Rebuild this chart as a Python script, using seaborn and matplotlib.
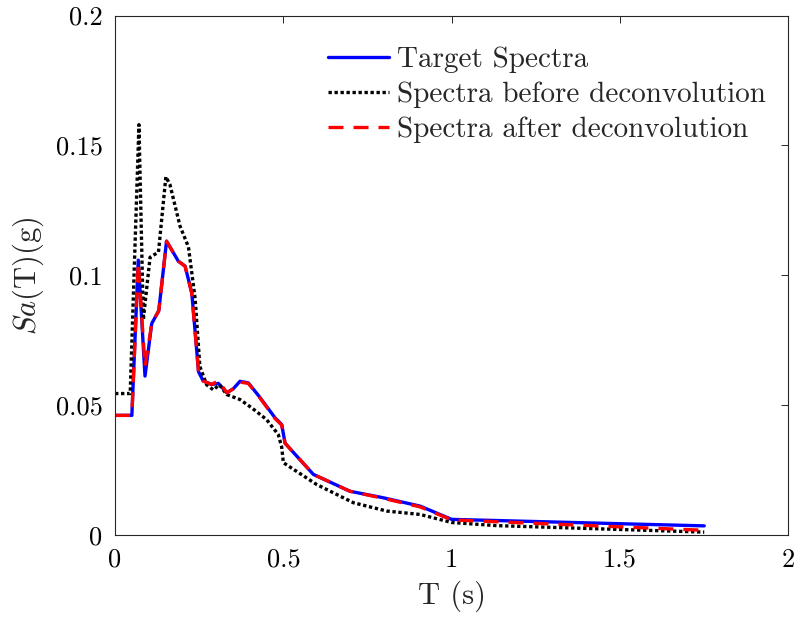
import numpy as np
import pandas as pd
import matplotlib
matplotlib.use("Agg")
import matplotlib.pyplot as plt
import seaborn as sns

# ---- data ----
T_target = [0.0, 0.05, 0.069, 0.089, 0.109, 0.130, 0.153, 0.188, 0.208, 0.228,
            0.248, 0.262, 0.287, 0.307, 0.332, 0.351, 0.371, 0.396, 0.431, 0.475,
            0.495, 0.505, 0.589, 0.698, 0.797, 0.906, 1.0, 1.75]
Sa_target = [0.0462, 0.0462, 0.1059, 0.0613, 0.0815, 0.0865, 0.1132, 0.1055, 0.1036, 0.0933,
             0.0630, 0.0594, 0.0581, 0.0585, 0.0549, 0.0564, 0.0593, 0.0587, 0.0530, 0.0453,
             0.0427, 0.0355, 0.0235, 0.0170, 0.0145, 0.0113, 0.0062, 0.0037]
Sa_after = [0.0462, 0.0462, 0.1050, 0.0650, 0.0815, 0.0865, 0.1132, 0.1055, 0.1036, 0.0930,
            0.0630, 0.0594, 0.0581, 0.0595, 0.0549, 0.0564, 0.0590, 0.0585, 0.0528, 0.0450,
            0.0425, 0.0355, 0.0235, 0.0170, 0.0143, 0.0110, 0.0060, 0.0020]

T_before = [0.0, 0.045, 0.071, 0.084, 0.104, 0.129, 0.151, 0.163, 0.193, 0.218,
            0.238, 0.252, 0.272, 0.292, 0.310, 0.332, 0.371, 0.406, 0.450, 0.485,
            0.495, 0.500, 0.599, 0.708, 0.807, 0.906, 1.0, 1.133, 1.75]
Sa_before = [0.0546, 0.0546, 0.1580, 0.0830, 0.1070, 0.1090, 0.1380, 0.1350, 0.1190, 0.1110,
             0.0910, 0.0650, 0.0580, 0.0560, 0.0580, 0.0542, 0.0523, 0.0491, 0.0446, 0.0388,
             0.0340, 0.0280, 0.0196, 0.0126, 0.0094, 0.0081, 0.0050, 0.0038, 0.0013]

labels = ["Target Spectra", "Spectra before deconvolution", "Spectra after deconvolution"]
x_ticks = [0, 0.5, 1, 1.5, 2]
x_ticklabels = ["0", "0.5", "1", "1.5", "2"]
y_ticks = [0, 0.05, 0.1, 0.15, 0.2]
y_ticklabels = ["0", "0.05", "0.1", "0.15", "0.2"]

sns.set_theme(style="white")
plt.rcParams["font.family"] = ["cmr10", "DejaVu Serif"]
plt.rcParams["mathtext.fontset"] = "cm"
plt.rcParams["axes.formatter.use_mathtext"] = True
plt.rcParams["axes.unicode_minus"] = False

fig = plt.figure(figsize=(7.95, 6.2), dpi=100)
ax = fig.add_axes([0.1447, 0.1363, 0.847, 0.8387])

df_t = pd.DataFrame({"T": T_target, "Sa": Sa_target})
df_b = pd.DataFrame({"T": T_before, "Sa": Sa_before})
df_a = pd.DataFrame({"T": T_target, "Sa": Sa_after})

lw = 2.4
sns.lineplot(data=df_t, x="T", y="Sa", ax=ax, color="#0000ff", lw=lw,
             label=labels[0], sort=False)
sns.lineplot(data=df_b, x="T", y="Sa", ax=ax, color="black", lw=lw,
             label=labels[1], sort=False, dashes=False)
sns.lineplot(data=df_a, x="T", y="Sa", ax=ax, color="#ff0000", lw=lw,
             label=labels[2], sort=False, dashes=False)
lines = ax.get_lines()
lines[1].set_dashes((1.0, 0.8))
lines[1].set_dash_capstyle("butt")
lines[2].set_dashes((4.5, 3.0))

ax.set_xlim(0, 2)
ax.set_ylim(0, 0.2)
ax.set_xticks(x_ticks)
ax.set_xticklabels(x_ticklabels)
ax.set_yticks(y_ticks)
ax.set_yticklabels(y_ticklabels)
ax.tick_params(direction="in", top=True, right=True, length=5, width=0.7,
               labelsize=19, colors="#262626", pad=9)
for lbl in ax.get_xticklabels() + ax.get_yticklabels():
    lbl.set_color("black")
for sp in ax.spines.values():
    sp.set_color("#262626")
    sp.set_linewidth(0.8)

ax.set_xlabel("T (s)", fontsize=22, labelpad=6)
ax.set_ylabel(r"$Sa$(T)(g)", fontsize=22, labelpad=7)

leg = ax.legend(loc="upper left", bbox_to_anchor=(0.299, 0.962), frameon=False,
                fontsize=21, handlelength=2.1, handletextpad=0.25, labelspacing=0.28,
                borderaxespad=0)

fig.savefig("out.png", dpi=100)
